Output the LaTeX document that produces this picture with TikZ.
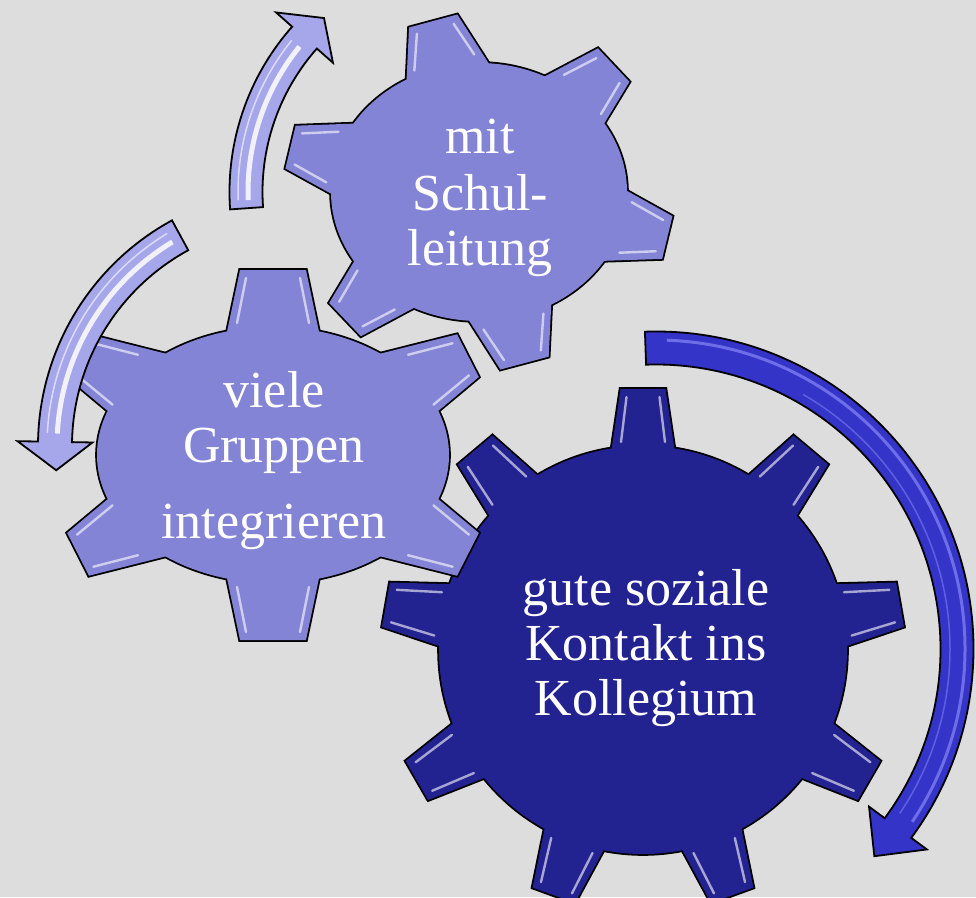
\documentclass[tikz,border=0pt]{standalone}
\usepackage{fontspec}
\setmainfont{Liberation Serif}
\definecolor{bg}{RGB}{221,221,221}
\definecolor{gearlight}{RGB}{132,132,214}
\definecolor{geardark}{RGB}{35,34,145}
\definecolor{arrlight}{RGB}{166,166,234}
\definecolor{arrdark}{RGB}{52,52,200}
\definecolor{arrdarkhi}{RGB}{125,125,240}

% pieces of a gear: ellipse body + trapezoid teeth
% #1 cx, #2 cy, #3 rx, #4 ry, #5 tooth height, #6 teeth {phi/tiphalf/basehalf}, #7 path style
\newcommand{\gearpieces}[7]{%
  \path[#7] (#1,#2) ellipse [x radius=#3, y radius=#4];
  \foreach \p/\wt/\wb in {#6} {%
    \pgfmathsetmacro\su{sin(\p)}%
    \pgfmathsetmacro\cu{cos(\p)}%
    \pgfmathsetmacro\rb{100*(#3/100)*(#4/100)/sqrt(((#4/100)*\su)^2+((#3/100)*\cu)^2)}%
    \pgfmathsetmacro\rt{\rb+#5}%
    \pgfmathsetmacro\ri{\rb-30}%
    \pgfmathsetmacro\wi{\wb+(\wb-\wt)*30/#5}%
    \path[#7] ({#1+\ri*\su-\wi*\cu},{#2-\ri*\cu-\wi*\su})
      -- ({#1+\rt*\su-\wt*\cu},{#2-\rt*\cu-\wt*\su})
      -- ({#1+\rt*\su+\wt*\cu},{#2-\rt*\cu+\wt*\su})
      -- ({#1+\ri*\su+\wi*\cu},{#2-\ri*\cu+\wi*\su}) -- cycle;
  }%
}
% glossy highlights along the tooth sides
\newcommand{\gearhigh}[6]{%
  \foreach \p/\wt/\wb in {#6} {%
    \pgfmathsetmacro\su{sin(\p)}%
    \pgfmathsetmacro\cu{cos(\p)}%
    \pgfmathsetmacro\rb{100*(#3/100)*(#4/100)/sqrt(((#4/100)*\su)^2+((#3/100)*\cu)^2)}%
    \pgfmathsetmacro\ra{\rb+4}%
    \pgfmathsetmacro\rt{\rb+#5-8}%
    \pgfmathsetmacro\wa{\wb-9}%
    \pgfmathsetmacro\wc{\wt-6}%
    \draw[glint] ({#1+\ra*\su-\wa*\cu},{#2-\ra*\cu-\wa*\su}) -- ({#1+\rt*\su-\wc*\cu},{#2-\rt*\cu-\wc*\su});
    \draw[glint] ({#1+\ra*\su+\wa*\cu},{#2-\ra*\cu+\wa*\su}) -- ({#1+\rt*\su+\wc*\cu},{#2-\rt*\cu+\wc*\su});
  }%
}
\newcommand{\gear}[7]{%
  \gearpieces{#1}{#2}{#3}{#4}{#5}{#6}{draw=black,line width=3.6pt,line join=miter}%
  \gearpieces{#1}{#2}{#3}{#4}{#5}{#6}{fill=#7}%
  \gearhigh{#1}{#2}{#3}{#4}{#5}{#6}%
}
% circular arrow: #1 cx, #2 cy, #3 r, #4 half width, #5 tail angle, #6 head base angle, #7 tip angle, #8 head half width, #9 style
\newcommand{\circarrow}[9]{%
  \begin{scope}[shift={(#1,#2)}]
    \path[#9] (#5:{#3+#4}) arc[start angle=#5, end angle=#6, radius={#3+#4}]
      -- (#6:{#3+#8}) -- (#7:#3) -- (#6:{#3-#8}) -- (#6:{#3-#4})
      arc[start angle=#6, end angle=#5, radius={#3-#4}] -- cycle;
  \end{scope}%
}
\newcommand{\circstripe}[6]{% cx cy r a1 a2 style
  \begin{scope}[shift={(#1,#2)}]
    \draw[#6] (#4:#3) arc[start angle=#4, end angle=#5, radius=#3];
  \end{scope}%
}

\tikzset{
  glint/.style={draw=white, opacity=0.6, line width=2.4pt, line cap=round},
  lightarrow/.style={fill=arrlight, draw=black, line width=1.8pt, line join=miter},
  darkarrow/.style={fill=arrdark, draw=black, line width=1.8pt, line join=miter},
  gtext/.style={font=\fontsize{52}{55}\selectfont, text=white, inner sep=0pt, anchor=base},
}

\begin{document}
\begin{tikzpicture}[x=1pt,y=-1pt]
  \fill[bg] (0,0) rectangle (976,897);
  \useasboundingbox (0,0) rectangle (976,897);

  % large dark gear
  \gear{643}{650}{204}{204}{57}{0/22.5/31,40/22.5/31,80/22.5/31,120/22.5/31,160/22.5/31,200/22.5/31,240/22.5/31,280/22.5/31,320/22.5/31}{geardark}
  % left gear
  \gear{273}{455}{176}{128}{57}{0/33/45,63/24/37,117/24/37,180/33/45,243/24/37,297/24/37}{gearlight}
  % small top gear
  \gear{479}{192}{148}{129}{47}{-15/25/40,46.7/23/36,103.6/22/35,165.1/25/40,226.4/23/36,283.4/22/35}{gearlight}

  % arrows
  \circarrow{479}{192}{233}{16.5}{176}{221.5}{228.3}{38}{lightarrow}
  \circstripe{479}{192}{231}{178}{219}{draw=white,line width=5pt,opacity=0.85}
  \circstripe{479}{192}{241}{178}{219}{draw=white,line width=1.5pt,opacity=0.6}

  \circarrow{295}{446}{240}{17}{-118.6}{-179}{-185.8}{37.5}{lightarrow}
  \circstripe{295}{446}{238}{-121}{-177}{draw=white,line width=5pt,opacity=0.85}
  \circstripe{295}{446}{248}{-121}{-177}{draw=white,line width=1.5pt,opacity=0.6}

  \circarrow{656}{649}{301}{16.5}{-92}{36.5}{43.5}{36}{darkarrow}
  \circstripe{656}{649}{309}{-88}{34}{draw=arrdarkhi,line width=3pt,opacity=0.8}
  \circstripe{656}{649}{294}{-60}{34}{draw=arrdarkhi,line width=1.5pt,opacity=0.6}

  % texts
  \node[gtext] (s1) at (480,153) {mit};
  \node[gtext] (s2) at (480,210) {Schul-};
  \node[gtext] (s3) at (480,265) {leitung};

  \node[gtext] (l1) at (274,407) {viele};
  \node[gtext] (l2) at (274,462) {Gruppen};
  \node[gtext] (l3) at (274,538) {integrieren};

  \node[gtext] (d1) at (646,605) {gute soziale};
  \node[gtext] (d2) at (646,660) {Kontakt ins};
  \node[gtext] (d3) at (646,715) {Kollegium};
\end{tikzpicture}
\end{document}
